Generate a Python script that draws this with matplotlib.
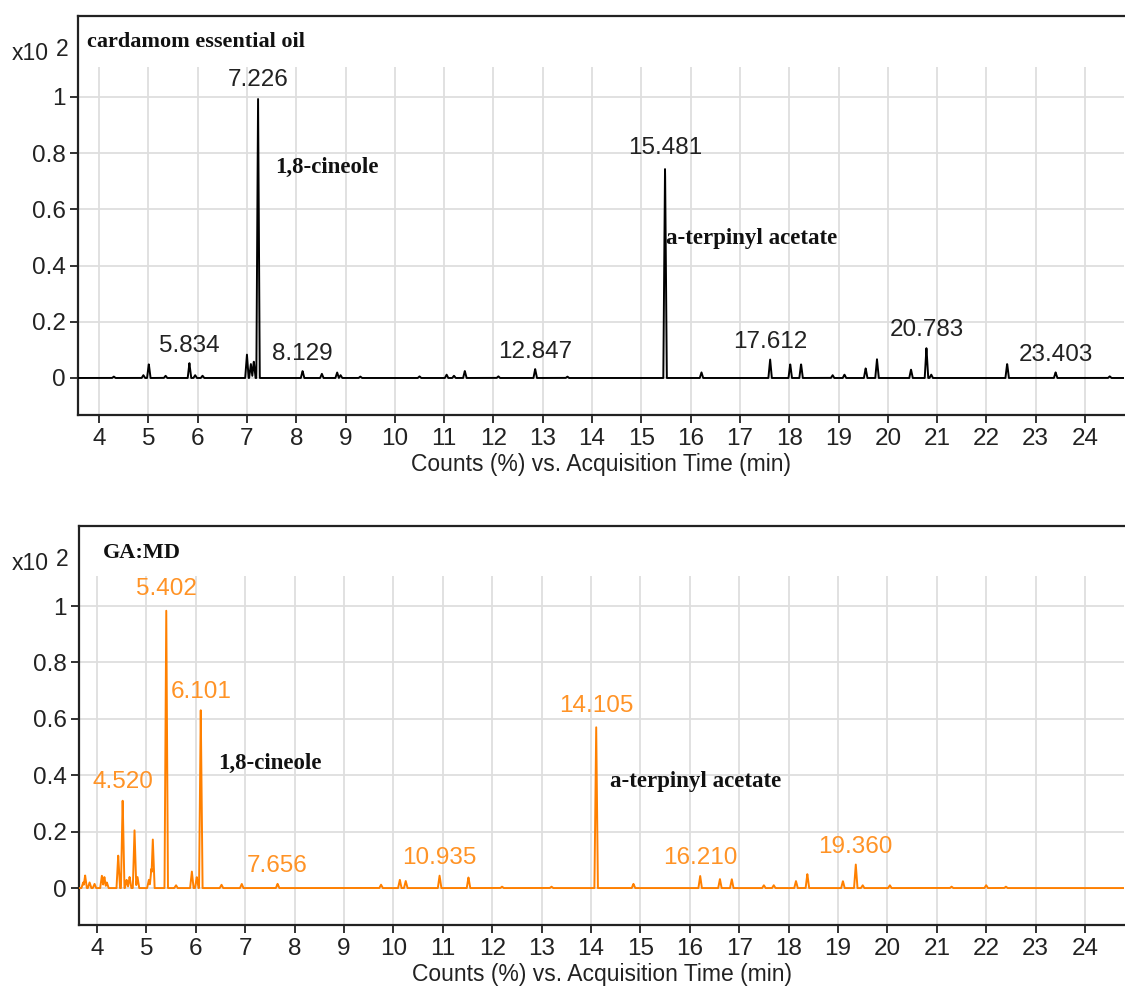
import numpy as np
import matplotlib
matplotlib.use("Agg")
import matplotlib.pyplot as plt

# ---------------- data ----------------
top_title = "cardamom essential oil"
bot_title = "GA:MD"

top_rt = [4.3, 4.9, 5.01, 5.35, 5.834, 5.95, 6.1, 7.0, 7.08, 7.14, 7.226, 8.129, 8.52,
          8.83, 8.9, 9.3, 10.5, 11.05, 11.2, 11.42, 12.1, 12.847, 13.5, 15.481, 16.22,
          17.612, 18.02, 18.24, 18.88, 19.12, 19.55, 19.78, 20.47, 20.783, 20.88, 22.42,
          23.403, 24.5]
top_h = [0.005, 0.01, 0.05, 0.008, 0.053, 0.01, 0.008, 0.085, 0.05, 0.06, 1.0, 0.025, 0.015,
         0.02, 0.01, 0.005, 0.006, 0.012, 0.008, 0.025, 0.006, 0.032, 0.005, 0.758, 0.02,
         0.067, 0.05, 0.05, 0.01, 0.012, 0.035, 0.067, 0.03, 0.108, 0.012, 0.051,
         0.02, 0.006]
top_labels = [5.834, 7.226, 8.129, 12.847, 15.481, 17.612, 20.783, 23.403]

bot_rt = [3.72, 3.76, 3.85, 3.95, 4.1, 4.15, 4.2, 4.43, 4.52, 4.6, 4.66, 4.76, 4.82, 5.05,
          5.1, 5.13, 5.402, 5.6, 5.92, 6.02, 6.101, 6.52, 6.93, 7.656, 9.75, 10.13, 10.25,
          10.935, 11.52, 12.2, 13.2, 14.105, 14.86, 16.21, 16.61, 16.85, 17.5, 17.7, 18.15,
          18.38, 19.1, 19.36, 19.5, 20.05, 21.3, 22.0, 22.4]
bot_h = [0.02, 0.045, 0.02, 0.015, 0.045, 0.04, 0.02, 0.117, 0.316, 0.03, 0.04, 0.205, 0.04,
         0.03, 0.07, 0.173, 1.0, 0.01, 0.06, 0.04, 0.635, 0.012, 0.015, 0.015, 0.012, 0.03,
         0.025, 0.044, 0.038, 0.005, 0.005, 0.585, 0.015, 0.044, 0.032, 0.032, 0.01, 0.01,
         0.025, 0.05, 0.025, 0.085, 0.01, 0.01, 0.005, 0.01, 0.005]
bot_labels = [4.520, 5.402, 6.101, 7.656, 10.935, 14.105, 16.210, 19.360]

x_ticks = list(range(4, 25))
y_ticks = [0, 0.2, 0.4, 0.6, 0.8, 1.0]
y_ticklabels = ["0", "0.2", "0.4", "0.6", "0.8", "1"]
xlabel = "Counts (%) vs. Acquisition Time (min)"
compound_a = "1,8-cineole"
compound_b = "a-terpinyl acetate"

# ---------------- drawing ----------------
SANS = "Liberation Sans"
SERIF = "Liberation Serif"
fig = plt.figure(figsize=(11.25, 9.88), dpi=100)

def trace(rts, hs, xmin, xmax, w=0.035):
    t = np.linspace(xmin, xmax, 8000)
    y = np.zeros_like(t)
    for r, h in zip(rts, hs):
        y = np.maximum(y, np.interp(t, [r - w, r, r + w], [0, h, 0]))
    return t, y

def panel(rect, xlim, ylim, rts, hs, labels, color, lcolor, title, title_xy,
          comp_pos):
    ax = fig.add_axes(rect)
    ax.set_xlim(*xlim)
    ax.set_ylim(*ylim)
    gc = "#dedede"
    ax.vlines(x_ticks, ylim[0], 1.105, color=gc, lw=1.3, zorder=0)
    ax.hlines(y_ticks, xlim[0], xlim[1], color=gc, lw=1.3, zorder=0)
    t, y = trace(rts, hs, xlim[0], xlim[1])
    ax.plot(t, y, color=color, lw=1.4, zorder=3)
    for lab in labels:
        i = int(np.argmin(np.abs(np.array(rts) - lab)))
        ax.annotate(f"{lab:.3f}", xy=(rts[i], hs[i]), xytext=(0, 12.5),
                    textcoords="offset points", ha="center", va="center",
                    fontsize=17.5, family=SANS, color=lcolor, zorder=4)
    ax.set_xticks(x_ticks)
    ax.set_xticklabels([str(v) for v in x_ticks])
    ax.set_yticks(y_ticks)
    ax.set_yticklabels(y_ticklabels)
    ax.tick_params(axis="both", direction="out", length=6, width=1.3,
                   labelsize=17.5, colors="#222222", pad=3)
    for lbl in ax.get_xticklabels() + ax.get_yticklabels():
        lbl.set_family(SANS)
    ax.spines["right"].set_visible(False)
    for s in ["top", "left", "bottom"]:
        ax.spines[s].set_linewidth(1.6)
        ax.spines[s].set_color("#222222")
    ax.set_xlabel(xlabel, fontsize=16.5, family=SANS, color="#222222", labelpad=2.5)
    ax.text(title_xy[0], title_xy[1], title, transform=ax.transAxes,
            fontsize=16, family=SERIF, fontweight="bold", color="#111111",
            ha="left", va="center")
    (ax_, ay_), (bx_, by_) = comp_pos
    ax.text(ax_, ay_, compound_a, fontsize=16.5, family=SERIF, fontweight="bold",
            color="#111111", ha="left", va="center")
    ax.text(bx_, by_, compound_b, fontsize=16.5, family=SERIF, fontweight="bold",
            color="#111111", ha="left", va="center")
    return ax

ax1 = panel([78 / 1125, 1 - 415 / 988, 1046 / 1125, 399 / 988], (3.574, 24.79),
            (-0.1317, 1.288), top_rt, top_h, top_labels, "#000000", "#222222",
            top_title, (0.009, 0.935), ((7.57, 0.75), (15.51, 0.498)))
ax2 = panel([79 / 1125, 1 - 925 / 988, 1045 / 1125, 399 / 988], (3.636, 24.79),
            (-0.131, 1.284), bot_rt, bot_h, bot_labels, "#ff8000", "#ff9326",
            bot_title, (0.023, 0.932), ((6.45, 0.443), (14.39, 0.379)))

# multiplier labels
for ytop in (53, 563):
    fig.text(12 / 1125, 1 - ytop / 988, "x10", fontsize=16.5, family=SANS,
             color="#222222", ha="left", va="center")
    fig.text(56 / 1125, 1 - (ytop - 4) / 988, "2", fontsize=16.5, family=SANS,
             color="#222222", ha="left", va="center")

fig.savefig("out.png", dpi=100)
